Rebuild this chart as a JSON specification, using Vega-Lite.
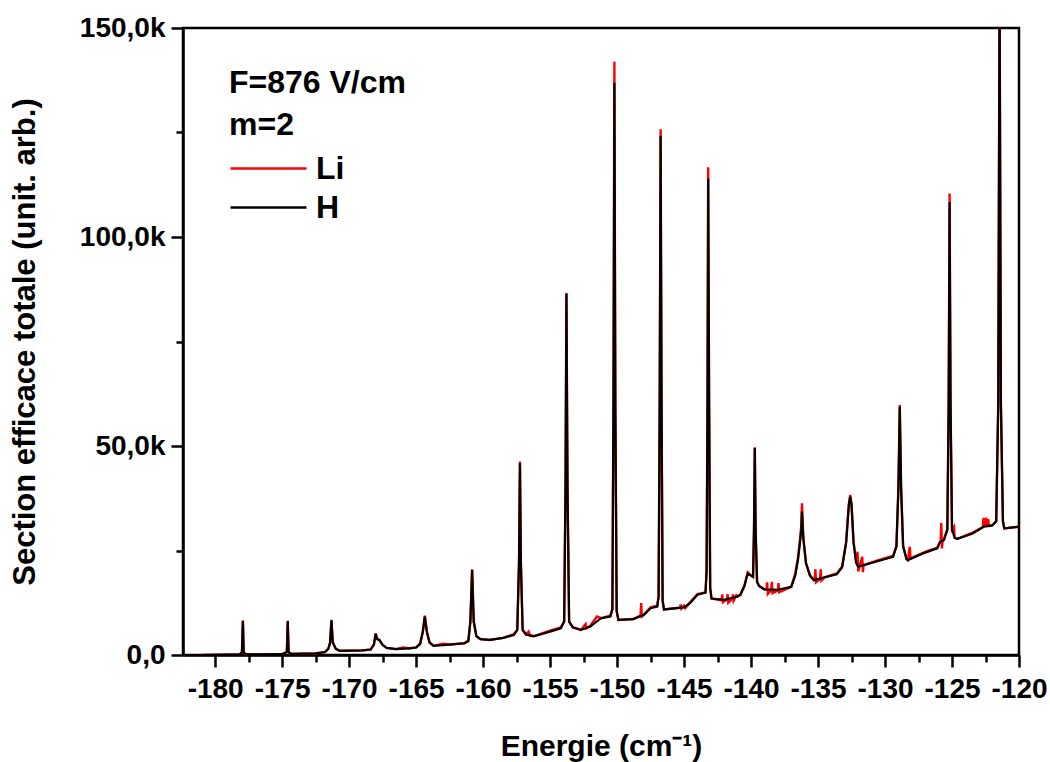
{
  "$schema": "https://vega.github.io/schema/vega-lite/v6.json",
  "width": 836,
  "height": 627,
  "autosize": {"type": "none"},
  "padding": {"left": 183, "top": 28, "right": 31, "bottom": 107},
  "background": "white",
  "config": {
    "view": {"stroke": "black", "strokeWidth": 2.5},
    "font": "Liberation Sans"
  },
  "datasets": {
    "H": [
      {"E":-181.0,"v":0},{"E":-179.0,"v":0.1},{"E":-178.2,"v":0.1},{"E":-178.0,"v":0.6},{"E":-177.93,"v":8.1},{"E":-177.87,"v":0.6},{"E":-177.7,"v":0.15},
      {"E":-175.0,"v":0.2},{"E":-174.65,"v":0.7},{"E":-174.58,"v":8.1},{"E":-174.52,"v":0.7},{"E":-174.3,"v":0.25},
      {"E":-172.5,"v":0.4},{"E":-171.8,"v":0.7},{"E":-171.55,"v":1.5},{"E":-171.42,"v":3.0},{"E":-171.32,"v":8.4},{"E":-171.22,"v":3.0},{"E":-171.0,"v":1.5},{"E":-170.7,"v":1.0},
      {"E":-169.0,"v":1.1},{"E":-168.4,"v":1.3},{"E":-168.15,"v":2.5},{"E":-168.02,"v":5.0},{"E":-167.9,"v":3.8},{"E":-167.75,"v":3.6},{"E":-167.5,"v":2.4},{"E":-167.2,"v":1.7},
      {"E":-166.5,"v":1.4},{"E":-165.5,"v":1.6},{"E":-165.0,"v":1.8},{"E":-164.7,"v":2.6},{"E":-164.5,"v":5.5},{"E":-164.35,"v":9.2},{"E":-164.2,"v":5.5},{"E":-164.0,"v":3.0},{"E":-163.7,"v":2.2},
      {"E":-162.5,"v":2.5},{"E":-161.4,"v":2.8},{"E":-161.1,"v":3.3},{"E":-160.95,"v":8},{"E":-160.82,"v":20.3},{"E":-160.7,"v":8},{"E":-160.5,"v":4.5},{"E":-160.2,"v":3.8},
      {"E":-159.5,"v":3.6},{"E":-158.5,"v":4.1},{"E":-157.7,"v":4.8},{"E":-157.45,"v":6},{"E":-157.32,"v":22},{"E":-157.25,"v":45.9},{"E":-157.18,"v":22},{"E":-157.05,"v":6},{"E":-156.8,"v":4.9},
      {"E":-156.2,"v":4.5},{"E":-155.0,"v":5.6},{"E":-154.2,"v":6.4},{"E":-153.95,"v":8},{"E":-153.85,"v":40},{"E":-153.78,"v":86.4},{"E":-153.7,"v":40},{"E":-153.58,"v":8},{"E":-153.3,"v":6.6},
      {"E":-152.7,"v":6.0},{"E":-152.0,"v":6.8},{"E":-151.2,"v":8.8},{"E":-150.5,"v":9.2},{"E":-150.35,"v":11},{"E":-150.27,"v":60},{"E":-150.2,"v":136.9},{"E":-150.13,"v":60},{"E":-150.03,"v":10.5},{"E":-149.9,"v":8.4},
      {"E":-148.8,"v":8.6},{"E":-148.0,"v":9.6},{"E":-147.5,"v":11.2},{"E":-147.0,"v":11.6},{"E":-146.9,"v":14},{"E":-146.82,"v":60},{"E":-146.75,"v":124.2},{"E":-146.68,"v":60},{"E":-146.6,"v":13},{"E":-146.5,"v":10.9},
      {"E":-145.0,"v":11.4},{"E":-144.5,"v":12.6},{"E":-144.0,"v":14.4},{"E":-143.4,"v":14.9},{"E":-143.32,"v":20},{"E":-143.25,"v":60},{"E":-143.2,"v":114},{"E":-143.13,"v":60},{"E":-143.05,"v":16},{"E":-142.95,"v":13.5},
      {"E":-142.0,"v":13.2},{"E":-141.0,"v":14.0},{"E":-140.8,"v":14.4},{"E":-140.5,"v":16.5},{"E":-140.25,"v":19.5},{"E":-140.0,"v":19.0},{"E":-139.85,"v":18.7},{"E":-139.78,"v":30},{"E":-139.72,"v":49.5},{"E":-139.66,"v":30},{"E":-139.55,"v":17.5},{"E":-139.4,"v":16.5},
      {"E":-139.0,"v":15.7},{"E":-138.0,"v":15.6},{"E":-137.0,"v":16.3},{"E":-136.7,"v":19},{"E":-136.5,"v":22.7},{"E":-136.35,"v":26.8},{"E":-136.25,"v":30},{"E":-136.2,"v":34.3},{"E":-136.1,"v":28},{"E":-135.9,"v":22},{"E":-135.6,"v":19},{"E":-135.3,"v":17.9},
      {"E":-134.5,"v":18.6},{"E":-133.6,"v":19.3},{"E":-133.2,"v":21},{"E":-132.9,"v":27},{"E":-132.7,"v":36},{"E":-132.6,"v":37.9},{"E":-132.5,"v":36},{"E":-132.35,"v":27},{"E":-132.15,"v":22},{"E":-132.0,"v":21.1},
      {"E":-130.5,"v":22.5},{"E":-129.4,"v":23.5},{"E":-129.15,"v":26},{"E":-129.0,"v":40},{"E":-128.9,"v":59.4},{"E":-128.8,"v":40},{"E":-128.65,"v":26},{"E":-128.4,"v":23},{"E":-128.3,"v":22.7},
      {"E":-127.0,"v":24.5},{"E":-126.1,"v":25.5},{"E":-125.9,"v":27.0},{"E":-125.6,"v":27.5},{"E":-125.35,"v":30},{"E":-125.25,"v":60},{"E":-125.18,"v":108.4},{"E":-125.11,"v":60},{"E":-125.0,"v":30},{"E":-124.8,"v":28},{"E":-124.6,"v":27.8},
      {"E":-123.5,"v":29},{"E":-122.6,"v":30.7},{"E":-122.0,"v":31.0},{"E":-121.7,"v":32},{"E":-121.55,"v":60},{"E":-121.45,"v":160},{"E":-121.35,"v":60},{"E":-121.2,"v":32},{"E":-121.1,"v":30.3},{"E":-120.0,"v":30.7}
    ],
    "Li": [
      {"E":-181.0,"v":0},{"E":-179.0,"v":0.1},{"E":-178.2,"v":0.1},{"E":-178.0,"v":0.6},{"E":-177.93,"v":8.3},{"E":-177.87,"v":0.6},{"E":-177.7,"v":0.15},
      {"E":-175.0,"v":0.2},{"E":-174.65,"v":0.7},{"E":-174.58,"v":8.2},{"E":-174.52,"v":0.7},{"E":-174.3,"v":0.25},
      {"E":-172.5,"v":0.4},{"E":-171.8,"v":0.7},{"E":-171.55,"v":1.5},{"E":-171.42,"v":3.0},{"E":-171.32,"v":8.2},{"E":-171.22,"v":3.0},{"E":-171.0,"v":1.5},{"E":-170.7,"v":1.0},
      {"E":-169.0,"v":1.1},{"E":-168.4,"v":1.3},{"E":-168.15,"v":2.5},{"E":-168.02,"v":5.2},{"E":-167.9,"v":3.8},{"E":-167.75,"v":3.6},{"E":-167.5,"v":2.4},{"E":-167.2,"v":1.7},
      {"E":-166.5,"v":1.4},{"E":-166.0,"v":1.8},{"E":-165.5,"v":1.6},{"E":-165.0,"v":1.8},{"E":-164.7,"v":2.8},{"E":-164.5,"v":5.7},{"E":-164.35,"v":9.4},{"E":-164.2,"v":5.7},{"E":-164.0,"v":3.0},{"E":-163.7,"v":2.2},
      {"E":-163.0,"v":2.7},{"E":-162.5,"v":2.5},{"E":-161.4,"v":2.8},{"E":-161.1,"v":3.5},{"E":-160.95,"v":8},{"E":-160.82,"v":20.5},{"E":-160.7,"v":8},{"E":-160.5,"v":4.5},{"E":-160.2,"v":3.8},
      {"E":-159.5,"v":3.6},{"E":-158.5,"v":4.1},{"E":-157.7,"v":5.0},{"E":-157.45,"v":6},{"E":-157.32,"v":22},{"E":-157.25,"v":46.3},{"E":-157.18,"v":22},{"E":-157.05,"v":6},{"E":-156.8,"v":4.9},{"E":-156.6,"v":5.6},{"E":-156.5,"v":4.6},
      {"E":-156.2,"v":4.5},{"E":-155.0,"v":5.8},{"E":-154.2,"v":6.6},{"E":-153.95,"v":8},{"E":-153.85,"v":40},{"E":-153.78,"v":86.6},{"E":-153.7,"v":40},{"E":-153.58,"v":8},{"E":-153.3,"v":6.6},
      {"E":-152.7,"v":6.0},{"E":-152.35,"v":7.4},{"E":-152.3,"v":6.4},{"E":-152.0,"v":7.0},{"E":-151.5,"v":9.2},{"E":-151.2,"v":8.8},{"E":-150.5,"v":9.4},{"E":-150.35,"v":11},{"E":-150.27,"v":60},{"E":-150.2,"v":141.9},{"E":-150.13,"v":60},{"E":-150.03,"v":10.5},{"E":-149.9,"v":8.4},
      {"E":-148.8,"v":8.6},{"E":-148.25,"v":9.4},{"E":-148.2,"v":12.4},{"E":-148.15,"v":9.2},{"E":-148.0,"v":9.6},{"E":-147.5,"v":11.4},{"E":-147.0,"v":11.8},{"E":-146.9,"v":14},{"E":-146.82,"v":60},{"E":-146.75,"v":125.8},{"E":-146.68,"v":60},{"E":-146.6,"v":13},{"E":-146.5,"v":10.9},
      {"E":-145.3,"v":11.3},{"E":-145.25,"v":12.1},{"E":-145.2,"v":11.1},{"E":-145.0,"v":11.8},{"E":-144.9,"v":11.2},{"E":-144.5,"v":12.8},{"E":-144.0,"v":14.6},{"E":-143.4,"v":15.0},{"E":-143.32,"v":20},{"E":-143.25,"v":60},{"E":-143.2,"v":116.7},{"E":-143.13,"v":60},{"E":-143.05,"v":16},{"E":-142.95,"v":13.5},
      {"E":-142.2,"v":13.1},{"E":-142.15,"v":14.5},{"E":-142.1,"v":12.6},{"E":-141.8,"v":13.3},{"E":-141.75,"v":14.6},{"E":-141.7,"v":12.5},{"E":-141.4,"v":13.5},{"E":-141.35,"v":14.5},{"E":-141.3,"v":13.0},{"E":-141.1,"v":14.3},{"E":-141.0,"v":14.0},
      {"E":-140.8,"v":14.4},{"E":-140.5,"v":16.5},{"E":-140.25,"v":19.8},{"E":-140.0,"v":19.0},{"E":-139.85,"v":18.7},{"E":-139.78,"v":30},{"E":-139.72,"v":49.7},{"E":-139.66,"v":30},{"E":-139.55,"v":17.5},{"E":-139.4,"v":16.5},
      {"E":-139.0,"v":15.7},{"E":-138.85,"v":15.6},{"E":-138.8,"v":17.4},{"E":-138.75,"v":14.6},{"E":-138.5,"v":15.5},{"E":-138.45,"v":17.5},{"E":-138.4,"v":14.8},{"E":-138.0,"v":15.4},{"E":-137.95,"v":17.2},{"E":-137.9,"v":15.0},
      {"E":-137.0,"v":16.3},{"E":-136.7,"v":19.5},{"E":-136.5,"v":23.2},{"E":-136.35,"v":27.5},{"E":-136.25,"v":31},{"E":-136.2,"v":36.3},{"E":-136.1,"v":28},{"E":-135.9,"v":22},{"E":-135.6,"v":19},{"E":-135.3,"v":17.9},
      {"E":-135.25,"v":18},{"E":-135.2,"v":20.5},{"E":-135.15,"v":17.4},{"E":-134.85,"v":18.2},{"E":-134.8,"v":20.5},{"E":-134.75,"v":17.8},
      {"E":-134.5,"v":18.6},{"E":-133.6,"v":19.5},{"E":-133.2,"v":21.2},{"E":-132.9,"v":27},{"E":-132.7,"v":36},{"E":-132.6,"v":38.3},{"E":-132.5,"v":36},{"E":-132.35,"v":27},{"E":-132.15,"v":22},
      {"E":-132.05,"v":24.7},{"E":-132.0,"v":20},{"E":-131.7,"v":23.5},{"E":-131.65,"v":19.8},{"E":-131.6,"v":21.5},
      {"E":-130.5,"v":22.7},{"E":-129.4,"v":23.7},{"E":-129.15,"v":26},{"E":-129.0,"v":40},{"E":-128.9,"v":59.8},{"E":-128.8,"v":40},{"E":-128.65,"v":26},{"E":-128.4,"v":23},{"E":-128.3,"v":22.7},
      {"E":-128.15,"v":25.9},{"E":-128.1,"v":23.1},
      {"E":-127.0,"v":24.7},{"E":-126.1,"v":25.7},{"E":-125.9,"v":27.0},{"E":-125.85,"v":27.1},{"E":-125.8,"v":31.6},{"E":-125.75,"v":25.5},{"E":-125.7,"v":27.4},{"E":-125.6,"v":27.7},{"E":-125.35,"v":30},{"E":-125.25,"v":60},{"E":-125.18,"v":110.4},{"E":-125.11,"v":60},{"E":-125.0,"v":30},
      {"E":-124.85,"v":30.7},{"E":-124.8,"v":28},{"E":-124.6,"v":27.8},
      {"E":-123.5,"v":29.2},{"E":-122.7,"v":30.6},{"E":-122.65,"v":32.8},{"E":-122.6,"v":30.8},{"E":-122.45,"v":32.8},{"E":-122.4,"v":31.0},{"E":-122.3,"v":32.5},{"E":-122.25,"v":30.9},
      {"E":-122.0,"v":31.0},{"E":-121.7,"v":32},{"E":-121.55,"v":60},{"E":-121.45,"v":160},{"E":-121.35,"v":60},{"E":-121.2,"v":32},{"E":-121.1,"v":30.3},{"E":-120.0,"v":30.7}
    ]
  },
  "resolve": {"axis": {"x": "independent", "y": "independent"}},
  "layer": [
    {
      "data": {"name": "Li"},
      "mark": {"type": "line", "clip": true, "strokeWidth": 2.4, "interpolate": "linear"},
      "encoding": {
        "x": {
          "field": "E", "type": "quantitative",
          "scale": {"domain": [-182.4, -120], "nice": false, "zero": false},
          "axis": {
            "orient": "bottom",
            "values": [-180, -175, -170, -165, -160, -155, -150, -145, -140, -135, -130, -125, -120],
            "labelExpr": "'-' + abs(datum.value)",
            "title": "Energie (cm⁻¹)",
            "titleFontSize": 30, "titleFontWeight": "bold", "titleColor": "black", "titleFont": "Liberation Sans",
            "titlePadding": 28, "titleLimit": 0,
            "labelFontSize": 28, "labelFontWeight": "bold", "labelColor": "black", "labelFont": "Liberation Sans",
            "labelPadding": 8, "labelFlush": false, "labelOverlap": false,
            "tickSize": 12, "tickWidth": 2.5, "tickColor": "black",
            "domainColor": "black", "domainWidth": 2.5, "grid": false
          }
        },
        "y": {
          "field": "v", "type": "quantitative",
          "scale": {"domain": [0, 150], "nice": false, "zero": false},
          "axis": {
            "orient": "left",
            "values": [0, 50, 100, 150],
            "labelExpr": "datum.value == 0 ? '0,0' : datum.value + ',0k'",
            "title": "Section efficace totale (unit. arb.)",
            "titleFontSize": 31, "titleFontWeight": "bold", "titleColor": "black", "titleFont": "Liberation Sans",
            "titlePadding": 38, "titleLimit": 0,
            "labelFontSize": 28, "labelFontWeight": "bold", "labelColor": "black", "labelFont": "Liberation Sans",
            "labelPadding": 6, "labelFlush": false, "labelOverlap": false,
            "tickSize": 12, "tickWidth": 2.5, "tickColor": "black",
            "domainColor": "black", "domainWidth": 2.5, "grid": false
          }
        },
        "color": {
          "datum": "Li",
          "type": "nominal",
          "scale": {"domain": ["Li", "H"], "range": ["#ff0000", "#000000"]},
          "legend": {
            "orient": "none", "legendX": 46, "legendY": 40, "direction": "vertical", "padding": 0,
            "title": ["F=876 V/cm", "m=2"],
            "titleFontSize": 32, "titleFontWeight": "bold", "titleColor": "black", "titleFont": "Liberation Sans",
            "titleLineHeight": 42, "titlePadding": 6, "titleLimit": 0,
            "labelFontSize": 32, "labelFontWeight": "bold", "labelColor": "black", "labelFont": "Liberation Sans",
            "labelLimit": 0, "labelOffset": 46,
            "symbolType": "M-1,0H3", "symbolSize": 1444, "symbolStrokeWidth": 2.5,
            "rowPadding": 2
          }
        }
      }
    },
    {
      "data": {"name": "H"},
      "mark": {"type": "line", "clip": true, "strokeWidth": 2.2, "interpolate": "linear"},
      "encoding": {
        "x": {
          "field": "E", "type": "quantitative",
          "axis": {
            "orient": "bottom",
            "values": [-177.5, -172.5, -167.5, -162.5, -157.5, -152.5, -147.5, -142.5, -137.5, -132.5, -127.5, -122.5],
            "labels": false, "title": null, "domain": false, "grid": false,
            "tickSize": 7, "tickWidth": 2.5, "tickColor": "black"
          }
        },
        "y": {
          "field": "v", "type": "quantitative",
          "axis": {
            "orient": "left",
            "values": [25, 75, 125],
            "labels": false, "title": null, "domain": false, "grid": false,
            "tickSize": 7, "tickWidth": 2.5, "tickColor": "black"
          }
        },
        "color": {"datum": "H", "type": "nominal"}
      }
    }
  ]
}
